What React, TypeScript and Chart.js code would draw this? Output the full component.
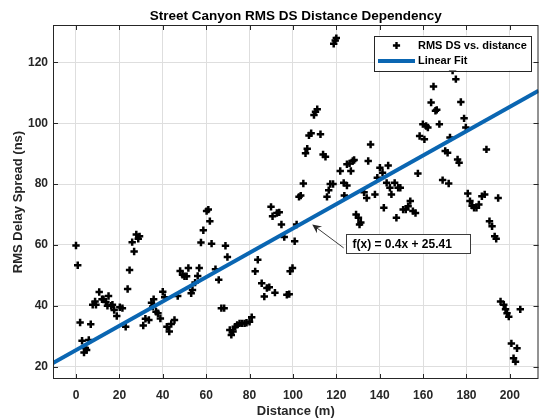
import { useEffect, useRef } from "react";
import { Chart, registerables } from "chart.js";

Chart.register(...registerables);

const distances = [
  0, 0.8, 1.9, 2.8, 3.7, 4.3, 4.9, 5.9, 6.8, 7.7, 8.8, 9.2, 10.7, 12, 12.7, 13.8, 14.5, 15, 16.2, 16.8,
  17.6, 18.8, 20.2, 21.4, 22.9, 23.8, 24.7, 25.9, 26.8, 27.8, 28.7, 29.3, 31, 32,
  33.6, 34.8, 35.4, 35.8, 36.9, 37.8, 38.9, 40, 40.9, 41.9, 43, 43.9, 45.4, 46.9, 48, 49.1, 50, 51, 51.8,
  53.1, 53.7, 54.9, 56.1, 56.8, 57.6, 58.7, 60.2, 61, 61.7, 62.5, 64.3, 65.8, 67, 68.3, 68.9, 69.8, 70.9,
  71.6, 72.4, 73.4, 74.3, 75.4, 76.5, 77.7, 78.6,
  80, 81, 82.6, 83.8, 85.6, 86.8, 88, 89.1, 89.9, 90.6, 91.7, 92.6, 93.7, 94.7, 96, 97.2, 98.3, 98.7,
  99.8, 100.8, 101.7, 102.8, 103.6, 104.8, 105.8, 106.6, 107.4, 108.4, 109.7, 110.4, 111.2, 112.7, 113.9,
  115, 115.7, 116.5, 117.2, 118.5, 118.8, 119.5, 120, 121.8, 123.4, 123.7, 124.9,
  124.9, 126.1, 126.7, 127.6, 128.2, 129.1, 130.2, 130.7, 131.3, 132.8, 134, 134.7, 135.8, 137.8, 138.9,
  140.1, 141.3, 141.9, 143.2, 143.9, 144.7, 145.4, 146.9, 147.7, 148.5, 149.5, 150.8, 152, 153.1, 154.1,
  155.3, 156.5, 157.6, 158.4, 159.9, 160.6, 161.4, 162.2, 163.7, 164.8, 165.7, 166.3, 167.5, 169, 170.2,
  171.3, 171.8, 172.4, 173.6, 175.1, 175.9, 176.6, 177.4, 178.9, 179.7, 180.6, 181.6, 182.6, 183.5, 184.6,
  185.7, 187.1, 188.4, 189.2, 190.6, 191.8, 193, 193.7, 194.6, 195.7, 197.2, 198, 198.7, 199.5, 200.7,
  201.7, 202.6, 203.3, 204.8,
];

const rmsDs = [
  59.8, 53.3, 34.5, 28.5, 24.6, 26.1, 25.4, 28.7, 33.9, 40.3, 41.4, 40.3, 44.5, 42.1, 42.1, 41.2, 40, 43.2, 40, 40.3,
  38.6, 36.6, 39.5, 39.2, 33.1, 45.5, 51.7, 60.9, 57.8, 63.4, 62, 62.8, 33.5, 35.7,
  35.3, 41, 39.7, 42.1, 38, 37.5, 35.8, 44.6, 42.8, 33.1, 31.5, 34, 35.3, 43.2, 51.4, 50.2, 49.7, 49.7, 52.4,
  44.1, 45.2, 47.6, 49.8, 52.4, 60.8, 64.8, 71.1, 71.6, 67.8, 60.4, 52, 48.5, 39.2, 39.2, 59.7, 56, 32,
  30.4, 31.5, 33.1, 33.7, 34.2, 34.2, 34.2, 34.4,
  34.7, 36.2, 51.3, 55.1, 47.4, 43, 45.8, 46.1, 72.5, 69.4, 44.3, 70.5, 70.7, 66.7, 62.6, 43.6, 43.8, 51.3,
  52.4, 61.2, 66.7, 75.8, 76.2, 80.2, 90.1, 91.6, 96, 96.7, 102.7, 103.8, 104.6, 96.4, 89.7,
  89, 75.8, 78, 80, 80, 126.1, 127.2, 128, 84.3, 80.4, 76.2, 86.5,
  79.5, 86.8, 84.3, 87.6, 87.9, 70, 68.9, 66.7, 67.4, 77.3, 75.4, 87.6, 93, 76.6, 82.1,
  85.4, 83.7, 72.2, 80.4, 86.1, 78.8, 76.6, 80.4, 68.9, 78.8, 78.8, 71.6, 71.6, 72.7, 74.4,
  71.1, 70.5, 83.5, 95.8, 99.7, 94.7, 99.1, 98.6, 106.8, 112.1, 104.1, 104.4, 99.7, 81.3, 90.9,
  90.3, 80.2, 95.3, 117.3, 114.5, 88.1, 87, 107, 101.6, 98.6, 76.9, 74.4, 72.9, 72.2, 72.2,
  73.3, 76, 76.6, 91.4, 67.8, 66.1, 62.8, 62, 75.4, 41.4, 40.3, 38.8, 37.5, 36.4, 27.6,
  22.7, 21.6, 26, 38.8,
];

const xTicks = [0, 20, 40, 60, 80, 100, 120, 140, 160, 180, 200];
const yTicks = [20, 40, 60, 80, 100, 120];
const xRange = [-10.6, 213.2];
const yRange = [15.9, 132.3];
const fitSlope = 0.4;
const fitIntercept = 25.41;

const titleText = "Street Canyon RMS DS Distance Dependency";
const xLabel = "Distance (m)";
const yLabel = "RMS Delay Spread (ns)";
const legendLabels = ["RMS DS vs. distance", "Linear Fit"];
const fitLabel = "f(x) = 0.4x + 25.41";
const arrowTip = [108.9, 66.7];
const arrowTail = [123.4, 59.0];
const fitBoxAnchor = [124.4, 60.5];

const FONT = "'Liberation Sans', Arial, Helvetica, sans-serif";
const AXIS_COLOR = "#262626";
const FIT_COLOR = "#0a66b2";

const decorPlugin = {
  id: "decor",
  afterDraw(chart: any) {
    const { ctx, chartArea, scales } = chart;
    const { left, top, right, bottom } = chartArea;
    const xs = scales.x;
    const ys = scales.y;
    ctx.save();

    // box
    ctx.strokeStyle = AXIS_COLOR;
    ctx.lineWidth = 1;
    ctx.strokeRect(left + 0.5, top + 0.5, right - left - 1, bottom - top - 1);

    // inward ticks
    const tl = 5;
    ctx.beginPath();
    for (const v of xTicks) {
      const px = Math.round(xs.getPixelForValue(v)) + 0.5;
      ctx.moveTo(px, bottom);
      ctx.lineTo(px, bottom - tl);
      ctx.moveTo(px, top);
      ctx.lineTo(px, top + tl);
    }
    for (const v of yTicks) {
      const py = Math.round(ys.getPixelForValue(v)) + 0.5;
      ctx.moveTo(left, py);
      ctx.lineTo(left + tl, py);
      ctx.moveTo(right, py);
      ctx.lineTo(right - tl, py);
    }
    ctx.stroke();

    // titles
    ctx.fillStyle = "#000";
    ctx.textAlign = "center";
    ctx.textBaseline = "middle";
    ctx.font = `bold 13.5px ${FONT}`;
    ctx.fillText(titleText, (left + right) / 2, 16);
    ctx.font = `bold 13px ${FONT}`;
    ctx.fillStyle = AXIS_COLOR;
    ctx.fillText(xLabel, (left + right) / 2, 411);
    ctx.save();
    ctx.translate(18, (top + bottom) / 2);
    ctx.rotate(-Math.PI / 2);
    ctx.fillText(yLabel, 0, 0);
    ctx.restore();

    // legend
    const lw = 157;
    const lh = 35;
    const lx = right - 7.5 - lw;
    const ly = top + 10.5;
    ctx.fillStyle = "#fff";
    ctx.fillRect(lx, ly, lw, lh);
    ctx.strokeStyle = AXIS_COLOR;
    ctx.lineWidth = 1;
    ctx.strokeRect(Math.round(lx) + 0.5, Math.round(ly) + 0.5, lw, lh);
    const row1 = ly + 10;
    const row2 = ly + 25.5;
    // marker
    ctx.strokeStyle = "#000";
    ctx.lineWidth = 2.4;
    ctx.beginPath();
    ctx.moveTo(lx + 22.5 - 3.6, row1);
    ctx.lineTo(lx + 22.5 + 3.6, row1);
    ctx.moveTo(lx + 22.5, row1 - 3.6);
    ctx.lineTo(lx + 22.5, row1 + 3.6);
    ctx.stroke();
    // line sample
    ctx.strokeStyle = FIT_COLOR;
    ctx.lineWidth = 4;
    ctx.beginPath();
    ctx.moveTo(lx + 4, row2);
    ctx.lineTo(lx + 41, row2);
    ctx.stroke();
    ctx.fillStyle = "#000";
    ctx.textAlign = "left";
    ctx.font = `bold 11px ${FONT}`;
    ctx.fillText(legendLabels[0], lx + 44, row1);
    ctx.fillText(legendLabels[1], lx + 44, row2);

    // annotation arrow
    const tx = xs.getPixelForValue(arrowTip[0]);
    const ty = ys.getPixelForValue(arrowTip[1]);
    const sx = xs.getPixelForValue(arrowTail[0]);
    const sy = ys.getPixelForValue(arrowTail[1]);
    const ang = Math.atan2(ty - sy, tx - sx);
    ctx.strokeStyle = "#3c3c3c";
    ctx.fillStyle = "#262626";
    ctx.lineWidth = 1;
    ctx.beginPath();
    ctx.moveTo(sx, sy);
    ctx.lineTo(tx - 4 * Math.cos(ang), ty - 4 * Math.sin(ang));
    ctx.stroke();
    const hl = 10;
    const hw = 0.45;
    ctx.beginPath();
    ctx.moveTo(tx, ty);
    ctx.lineTo(tx - hl * Math.cos(ang - hw), ty - hl * Math.sin(ang - hw));
    ctx.lineTo(tx - 6 * Math.cos(ang), ty - 6 * Math.sin(ang));
    ctx.lineTo(tx - hl * Math.cos(ang + hw), ty - hl * Math.sin(ang + hw));
    ctx.closePath();
    ctx.fill();

    // annotation box
    const bx = Math.round(xs.getPixelForValue(fitBoxAnchor[0])) + 0.5;
    const bcy = ys.getPixelForValue(fitBoxAnchor[1]);
    const bw = 124;
    const bh = 19;
    const by = Math.round(bcy - bh / 2) + 0.5;
    ctx.fillStyle = "#fff";
    ctx.fillRect(bx, by, bw, bh);
    ctx.strokeStyle = "#3c3c3c";
    ctx.strokeRect(bx, by, bw, bh);
    ctx.fillStyle = "#000";
    ctx.font = `bold 12px ${FONT}`;
    ctx.textAlign = "left";
    ctx.textBaseline = "middle";
    ctx.fillText(fitLabel, bx + 6, by + bh / 2 + 0.5);

    ctx.restore();
  },
};

export default function App() {
  const ref = useRef<HTMLCanvasElement>(null);
  useEffect(() => {
    const points = distances.map((d, i) => ({ x: d, y: rmsDs[i] }));
    const fitLine = xRange.map((x) => ({ x, y: fitSlope * x + fitIntercept }));
    const chart = new Chart(ref.current as HTMLCanvasElement, {
      type: "scatter",
      data: {
        datasets: [
          {
            label: legendLabels[1],
            data: fitLine,
            showLine: true,
            borderColor: FIT_COLOR,
            borderWidth: 4,
            pointRadius: 0,
            fill: false,
          } as any,
          {
            label: legendLabels[0],
            data: points,
            pointStyle: "cross",
            pointRadius: 3.7,
            borderColor: "#000",
            backgroundColor: "#000",
            pointBorderWidth: 2.5,
            borderWidth: 2.5,
          } as any,
        ],
      },
      options: {
        animation: false,
        responsive: false,
        devicePixelRatio: 1,
        layout: { padding: { left: 0, right: 2, top: 25, bottom: 0 } },
        plugins: {
          legend: { display: false },
          title: { display: false },
          tooltip: { enabled: false },
        },
        scales: {
          x: {
            type: "linear",
            min: xRange[0],
            max: xRange[1],
            afterBuildTicks: (axis: any) => {
              axis.ticks = xTicks.map((v) => ({ value: v }));
            },
            afterFit: (axis: any) => {
              axis.height = 39;
            },
            grid: { color: "#dedede", lineWidth: 1, drawTicks: false },
            border: { display: false },
            ticks: {
              padding: 9,
              color: AXIS_COLOR,
              font: { family: FONT, size: 12, weight: "bold" },
              maxRotation: 0,
            },
          },
          y: {
            type: "linear",
            min: yRange[0],
            max: yRange[1],
            afterBuildTicks: (axis: any) => {
              axis.ticks = yTicks.map((v) => ({ value: v }));
            },
            afterFit: (axis: any) => {
              axis.width = 53;
            },
            grid: { color: "#dedede", lineWidth: 1, drawTicks: false },
            border: { display: false },
            ticks: {
              padding: 5,
              color: AXIS_COLOR,
              font: { family: FONT, size: 12, weight: "bold" },
            },
          },
        },
      } as any,
      plugins: [decorPlugin],
    });
    return () => chart.destroy();
  }, []);
  return (
    <div style={{ position: "absolute", left: 0, top: 0, width: 545, height: 418, background: "#fff" }}>
      <canvas ref={ref} width={545} height={418} style={{ display: "block", width: 545, height: 418 }} />
    </div>
  );
}
